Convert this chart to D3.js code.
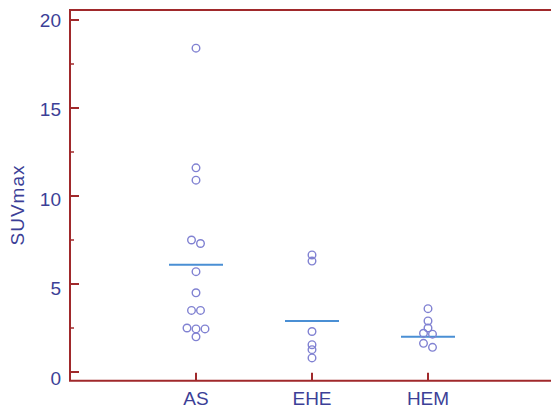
<!DOCTYPE html>
<html>
<head>
<meta charset="utf-8">
<script src="https://cdn.jsdelivr.net/npm/d3@7"></script>
<style>
  body { margin: 0; background: #fff; overflow: hidden; }
  text { font-family: "Liberation Sans", Arial, sans-serif; }
</style>
</head>
<body>
<script>
// groups and SUVmax values
const categories = ["AS", "EHE", "HEM"];
const valuesAS  = [18.4, 11.6, 10.9, 7.5, 7.3, 5.7, 4.5, 3.5, 3.5, 2.45, 2.45, 2.5, 2.0];
const valuesEHE = [6.65, 6.3, 2.3, 1.55, 1.27, 0.8];
const valuesHEM = [3.6, 2.9, 2.5, 2.15, 2.2, 1.63, 1.4];
const means = [6.1, 2.9, 2.0];
const yTicks = [0, 5, 10, 15, 20];
const yMinor = [2.5, 7.5, 12.5, 17.5];

const W = 551, H = 410;
const frameColor = "#a0292b";
const textColor = "#3c3f97";

var svg = d3.select("body")
  .append("svg")
  .attr("width", W)
  .attr("height", H);

var y = d3.scaleLinear()
  .domain([0, 20])
  .range([372, 20]);

// tick labels sit slightly lower than the ticks in the original
var yLab = d3.scaleLinear()
  .domain([0, 20])
  .range([378, 20]);

var x = d3.scalePoint()
  .domain(categories)
  .range([196, 428]);

const frameL = 70, frameR = W;
const frameT = y(20.57), frameB = y(-0.5);

// frame: left, top, bottom (right side runs off the picture)
svg.append("path")
  .attr("d", `M${frameR},${frameT}H${frameL}V${frameB}H${frameR}`)
  .attr("fill", "none")
  .attr("stroke", frameColor)
  .attr("stroke-width", 2);

// y ticks (inside)
svg.selectAll(".ymaj")
  .data(yTicks)
  .enter().append("line")
  .attr("x1", frameL).attr("x2", frameL + 9)
  .attr("y1", d => y(d)).attr("y2", d => y(d))
  .attr("stroke", frameColor).attr("stroke-width", 2);

svg.selectAll(".ymin")
  .data(yMinor)
  .enter().append("line")
  .attr("x1", frameL).attr("x2", frameL + 4)
  .attr("y1", d => y(d)).attr("y2", d => y(d))
  .attr("stroke", frameColor).attr("stroke-width", 1.5);

svg.selectAll(".ylab")
  .data(yTicks)
  .enter().append("text")
  .attr("x", frameL - 9)
  .attr("y", d => yLab(d))
  .attr("dy", "0.36em")
  .attr("text-anchor", "end")
  .attr("font-size", 19)
  .attr("fill", textColor)
  .text(d => d);

// x ticks (inside) and labels
svg.selectAll(".xt")
  .data(categories)
  .enter().append("line")
  .attr("x1", d => x(d)).attr("x2", d => x(d))
  .attr("y1", frameB).attr("y2", frameB - 8)
  .attr("stroke", frameColor).attr("stroke-width", 2);

svg.selectAll(".xlab")
  .data(categories)
  .enter().append("text")
  .attr("x", d => x(d))
  .attr("y", 405)
  .attr("text-anchor", "middle")
  .attr("font-size", 19)
  .attr("fill", textColor)
  .text(d => d);

// y axis title
svg.append("text")
  .attr("transform", "translate(24,205) rotate(-90)")
  .attr("text-anchor", "middle")
  .attr("font-size", 19)
  .attr("letter-spacing", 1)
  .attr("fill", textColor)
  .text("SUVmax");

// mean lines
svg.selectAll(".mean")
  .data(categories)
  .enter().append("line")
  .attr("x1", d => x(d) - 27).attr("x2", d => x(d) + 27)
  .attr("y1", (d, i) => y(means[i])).attr("y2", (d, i) => y(means[i]))
  .attr("stroke", "#4a8fd4").attr("stroke-width", 2);

// points: values close together are put side by side
function dodge(vals, cat) {
  const sorted = vals.slice().sort((a, b) => b - a);
  const rows = [];
  sorted.forEach(v => {
    const last = rows[rows.length - 1];
    if (last && last[0] - v < 0.25) last.push(v);
    else rows.push([v]);
  });
  const out = [];
  rows.forEach(r => {
    r.forEach((v, i) => {
      out.push({cx: x(cat) + (i - (r.length - 1) / 2) * 9, cy: y(v)});
    });
  });
  return out;
}

const groups = [valuesAS, valuesEHE, valuesHEM];
groups.forEach((vals, gi) => {
  svg.selectAll(".pt" + gi)
    .data(dodge(vals, categories[gi]))
    .enter().append("circle")
    .attr("cx", d => d.cx)
    .attr("cy", d => d.cy)
    .attr("r", 3.8)
    .attr("fill", "none")
    .attr("stroke", "#8182d2")
    .attr("stroke-width", 1.4);
});
</script>
</body>
</html>
